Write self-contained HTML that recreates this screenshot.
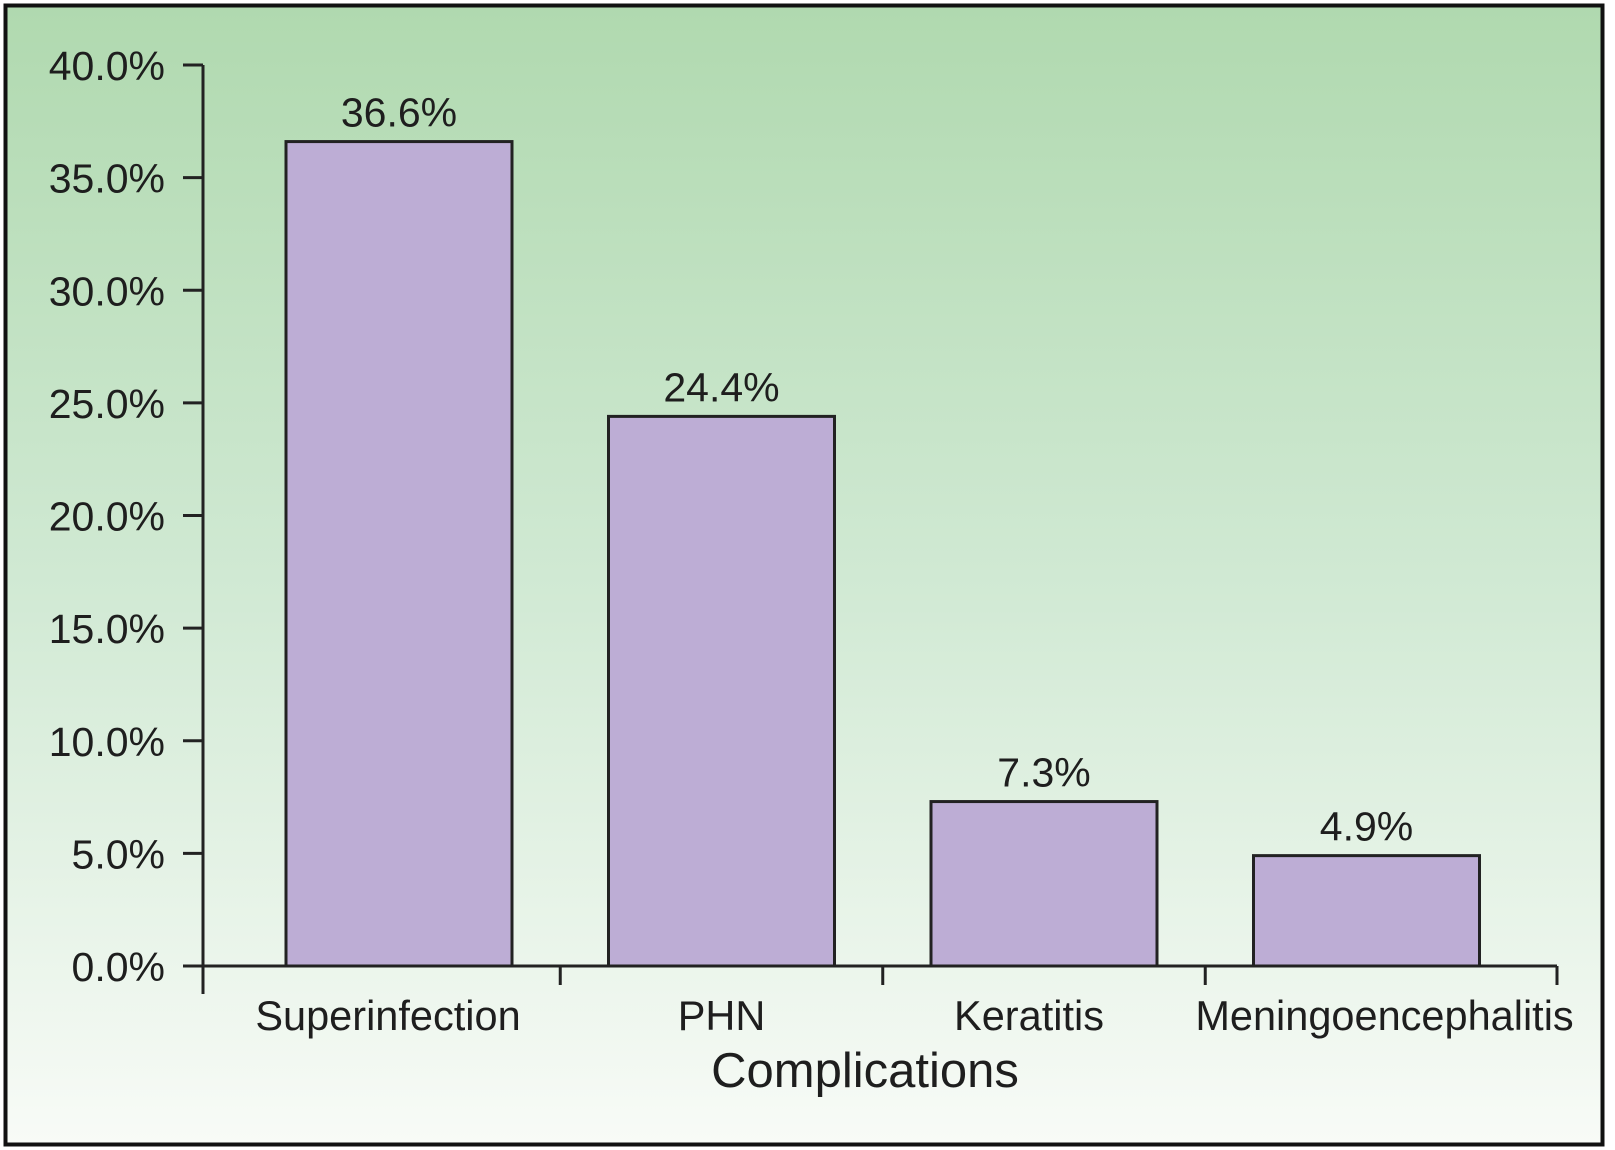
<!DOCTYPE html>
<html><head><meta charset="utf-8"><style>
html,body{margin:0;padding:0;background:#fff;}
svg{display:block;}
text{font-family:"Liberation Sans",Arial,sans-serif;fill:#1e1e1e;}
</style></head><body>
<svg id="chart" width="1615" height="1150" xmlns="http://www.w3.org/2000/svg">
<defs><linearGradient id="bg" x1="0" y1="0" x2="0" y2="1">
<stop offset="0" stop-color="#b0d9af"/><stop offset="0.5" stop-color="#d0e9d3"/><stop offset="1" stop-color="#f8fbf7"/></linearGradient></defs>
<rect x="5.5" y="5.5" width="1597" height="1139" fill="url(#bg)" stroke="#111" stroke-width="4"/>
<g id="marks"></g>
</svg>
<script>
const categories=["Superinfection","PHN","Keratitis","Meningoencephalitis"];
const values=[36.6,24.4,7.3,4.9];
const valueLabels=["36.6%","24.4%","7.3%","4.9%"];
const yTicks=[0,5,10,15,20,25,30,35,40];
const yTickLabels=["0.0%","5.0%","10.0%","15.0%","20.0%","25.0%","30.0%","35.0%","40.0%"];
const axisTitle="Complications";

const NS="http://www.w3.org/2000/svg";
const g=document.getElementById('marks');
const y0=966,yTop=65,yMax=40,axisX=203,axisEnd=1562-5;
const yScale=v=>y0-(v/yMax)*(y0-yTop);
const barW=226,firstLeft=286,step=322.5;
const xLeft=i=>firstLeft+i*step;
const xCenter=i=>xLeft(i)+barW/2;
const labelShift=[-11,0,-15,18];
function mk(tag,attrs,parent){const e=document.createElementNS(NS,tag);for(const k in attrs)e.setAttribute(k,attrs[k]);(parent||g).appendChild(e);return e;}

let e=mk('line',{x1:axisX,y1:yTop,x2:axisX,y2:y0+28,stroke:'#222','stroke-width':3});


e=mk('line',{x1:axisX-20,y1:y0,x2:axisEnd,y2:y0,stroke:'#222','stroke-width':3});



yTicks.forEach((t,i)=>{
  const y=yScale(t);
  const l=mk('line',{x1:axisX-20,y1:y,x2:axisX,y2:y,stroke:'#222','stroke-width':3});
  
  
  const tx=mk('text',{x:165,y:y+15,'text-anchor':'end','font-size':41});
  tx.textContent=yTickLabels[i];
  
  
});

const sepX=[axisX];
for(let i=0;i<categories.length-1;i++)sepX.push((xLeft(i)+barW+xLeft(i+1))/2);
sepX.push(axisEnd);
sepX.forEach(x=>{
  const l=mk('line',{x1:x,y1:y0,x2:x,y2:y0+19,stroke:'#222','stroke-width':3});
  
  
});

values.forEach((v,i)=>{
  const r=mk('rect',{x:xLeft(i),y:yScale(v),width:barW,height:y0-yScale(v),fill:'#bdadd5',stroke:'#222','stroke-width':3});
  
  
  const t=mk('text',{x:xCenter(i),y:yScale(v)-15,'text-anchor':'middle','font-size':41});
  t.textContent=valueLabels[i];
  
  
  const c=mk('text',{x:xCenter(i)+labelShift[i],y:1030,'text-anchor':'middle','font-size':41.5});
  c.textContent=categories[i];
  
  
});

e=mk('text',{x:865,y:1087,'text-anchor':'middle','font-size':49});
e.textContent=axisTitle;


</script>
</body></html>
